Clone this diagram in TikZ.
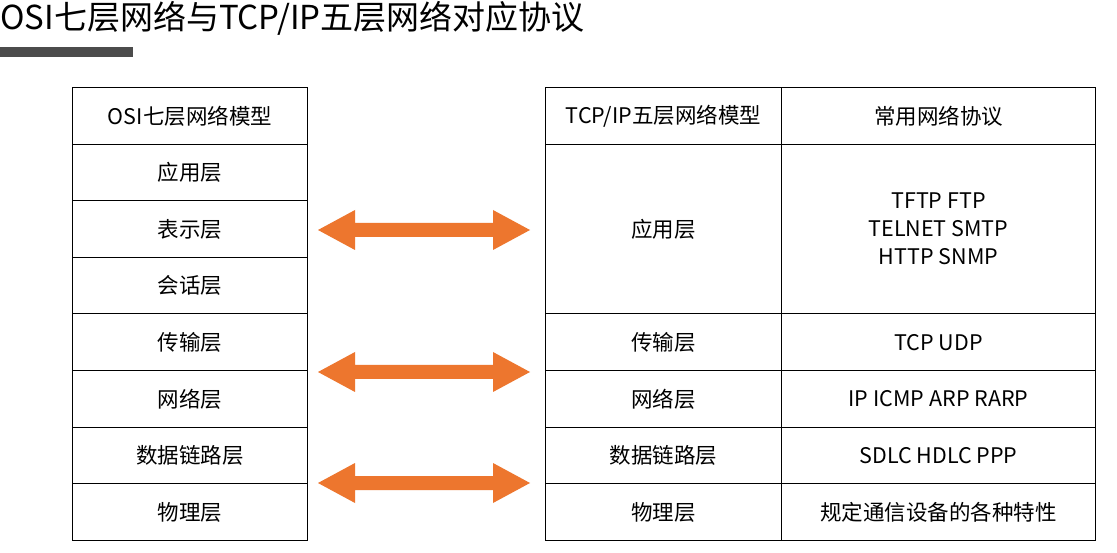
\documentclass[tikz,border=0pt]{standalone}
\usepackage{fontspec}
\setmainfont{Noto Sans CJK SC}
\begin{document}
\begin{tikzpicture}[x=1pt,y=-1pt,
  cell/.style={draw=black,line width=1pt,font=\fontsize{21.5}{28}\selectfont,align=center,inner sep=0pt,anchor=north west},
  arr/.style={fill={rgb,255:red,237;green,118;blue,46}}]
\useasboundingbox[fill=white] (0,0) rectangle (1117,553);
\node[anchor=west,font=\fontsize{33}{36}\selectfont,inner sep=0pt] (title) at (0,18) {OSI七层网络与TCP/IP五层网络对应协议};
\fill[black!70] (0,47) rectangle (133,57);
% left table
\foreach \t [count=\i from 0] in {OSI七层网络模型,应用层,表示层,会话层,传输层,网络层,数据链路层,物理层}{
  \node[cell,minimum width=235pt,minimum height=56.6pt] (L\i) at (72,87+56.6*\i) {\t};
}
% right table
\node[cell,minimum width=236pt,minimum height=56.6pt] (H1) at (545,87) {TCP/IP五层网络模型};
\node[cell,minimum width=314pt,minimum height=56.6pt] (H2) at (781,87) {常用网络协议};
\node[cell,minimum width=236pt,minimum height=169.8pt] (A1) at (545,143.6) {应用层};
\node[cell,minimum width=314pt,minimum height=169.8pt] (A2) at (781,143.6) {TFTP FTP\\TELNET SMTP\\HTTP SNMP};
\foreach \a/\b [count=\i from 0] in {传输层/TCP UDP,网络层/IP ICMP ARP RARP,数据链路层/SDLC HDLC PPP,物理层/规定通信设备的各种特性}{
  \node[cell,minimum width=236pt,minimum height=56.6pt] (R\i) at (545,313.4+56.6*\i) {\a};
  \node[cell,minimum width=314pt,minimum height=56.6pt] (P\i) at (781,313.4+56.6*\i) {\b};
}
% arrows
\foreach \y in {230,372,483}{
  \fill[arr] (318,\y) -- (355,\y-20) -- (355,\y-7) -- (493,\y-7) -- (493,\y-20) -- (530,\y)
    -- (493,\y+20) -- (493,\y+7) -- (355,\y+7) -- (355,\y+20) -- cycle;
}
\end{tikzpicture}
\end{document}
